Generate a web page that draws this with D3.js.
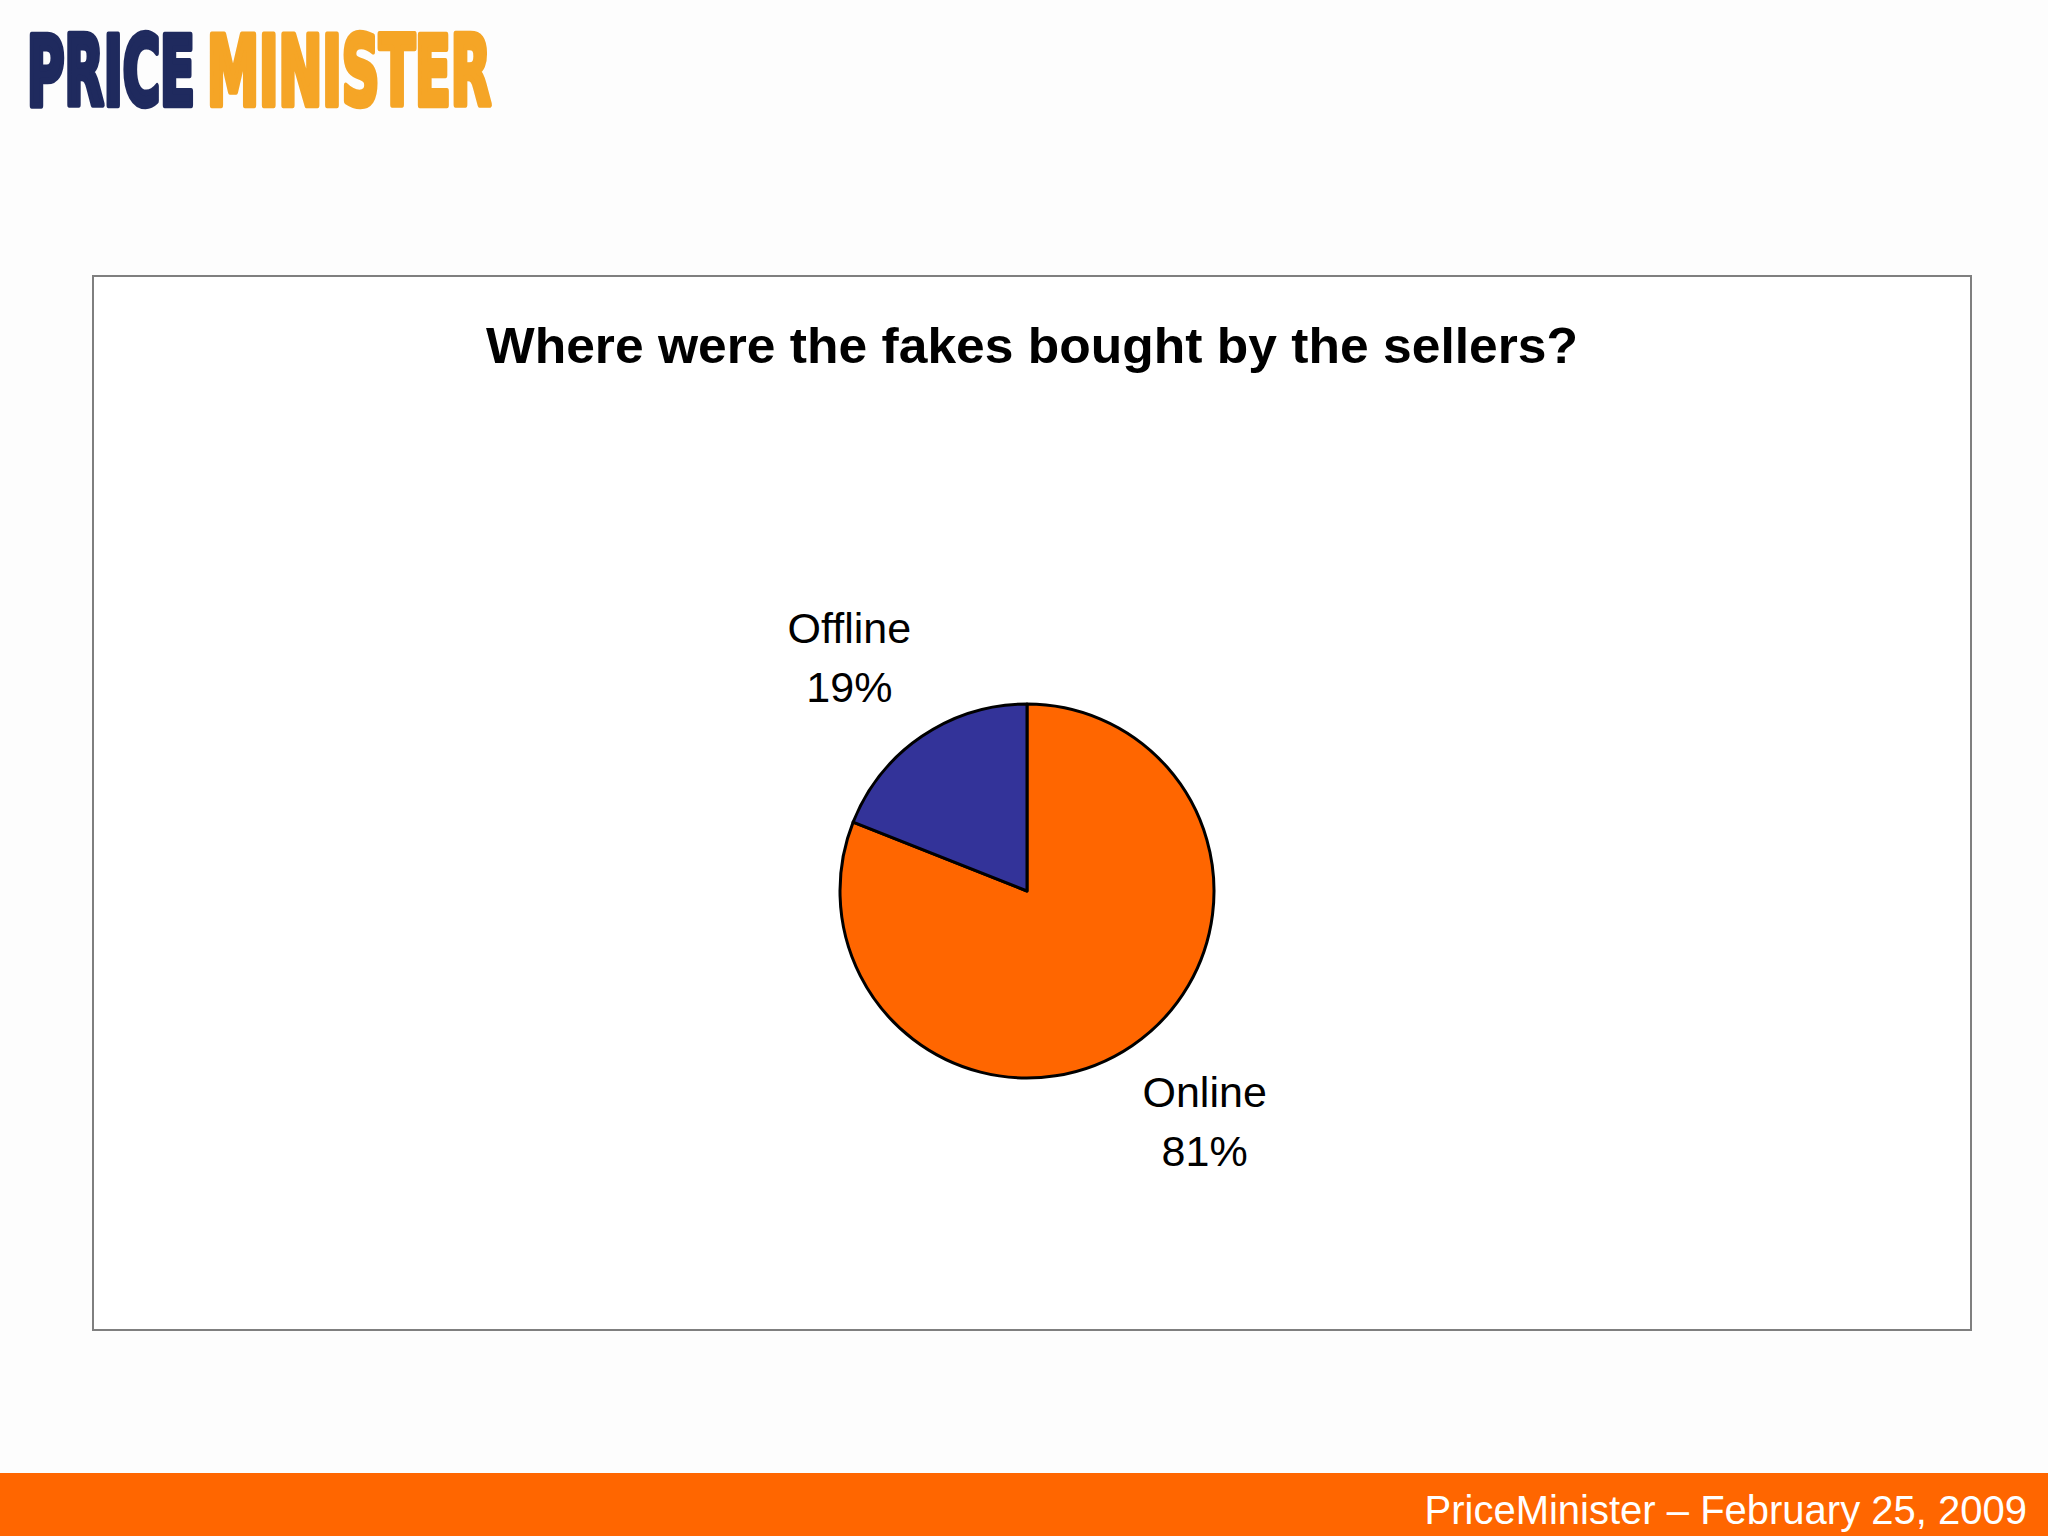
<!DOCTYPE html>
<html>
<head>
<meta charset="utf-8">
<script src="https://cdn.jsdelivr.net/npm/d3@7"></script>
<style>
  html, body { margin: 0; padding: 0; background: #fdfdfd; }
  svg { display: block; }
</style>
</head>
<body>
<svg id="chart" width="2048" height="1536"></svg>
<script>
// ---- data ----
const categories = ["Online", "Offline"];
const values = [81, 19];
const valueLabels = ["81%", "19%"];
const colors = ["#ff6600", "#333399"];
const titleText = "Where were the fakes bought by the sellers?";
const footerText = "PriceMinister \u2013 February 25, 2009";
const logoParts = ["PRICE", "MINISTER"];
const logoColors = ["#1f2a5e", "#f5a526"];

const W = 2048, H = 1536;
const svg = d3.select("#chart");

svg.append("rect").attr("x", 0).attr("y", 0).attr("width", W).attr("height", H).attr("fill", "#fdfdfd");

// ---- logo ----
const logoX = [27, 207], logoW = [168, 284];
logoParts.forEach((p, i) => {
  const t = svg.append("text")
    .attr("x", 0).attr("y", 0)
    .attr("font-family", "'Liberation Sans Narrow', 'DejaVu Sans Condensed', sans-serif")
    .attr("font-weight", "bold")
    .attr("font-size", 96)
    .attr("fill", logoColors[i]).attr("stroke", logoColors[i]).attr("stroke-width", 5)
    .attr("stroke-linejoin", "round")
    .text(p);
  const natural = t.node().getComputedTextLength();
  const sx = logoW[i] / natural;
  t.attr("transform", `translate(${logoX[i]},105) scale(${sx},1)`)
   .attr("stroke-width", 5 / Math.sqrt(sx));
});

// ---- chart frame ----
const box = { x: 93, y: 276, w: 1878, h: 1054 };
svg.append("rect")
  .attr("x", box.x).attr("y", box.y).attr("width", box.w).attr("height", box.h)
  .attr("fill", "#ffffff").attr("stroke", "#7f7f7f").attr("stroke-width", 2);

svg.append("text")
  .attr("x", box.x + box.w / 2).attr("y", 363)
  .attr("text-anchor", "middle")
  .attr("font-family", "Arial, 'Liberation Sans', sans-serif")
  .attr("font-weight", "bold")
  .attr("font-size", 50)
  .attr("fill", "#000")
  .attr("textLength", 1092).attr("lengthAdjust", "spacingAndGlyphs")
  .text(titleText);

// ---- pie ----
const cx = 1027, cy = 891, R = 187;
const data = categories.map((c, i) => ({ cat: c, value: values[i], label: valueLabels[i], color: colors[i] }));
const pie = d3.pie().sort(null).value(d => d.value);
const arc = d3.arc().innerRadius(0).outerRadius(R);
const arcs = pie(data);

const g = svg.append("g").attr("transform", `translate(${cx},${cy})`);
g.selectAll("path.slice")
  .data(arcs)
  .join("path")
  .attr("class", "slice")
  .attr("d", arc)
  .attr("fill", d => d.data.color)
  .attr("stroke", "#000")
  .attr("stroke-width", 3)
  .attr("stroke-linejoin", "round");

// labels
const lrx = 1.69 * R, lry = 1.5 * R;
const lab = g.selectAll("g.lab")
  .data(arcs)
  .join("g")
  .attr("class", "lab")
  .attr("transform", d => {
    const m = (d.startAngle + d.endAngle) / 2;
    return `translate(${Math.sin(m) * lrx},${-Math.cos(m) * lry})`;
  });
lab.append("text")
  .attr("y", -16)
  .attr("text-anchor", "middle")
  .attr("font-family", "Arial, 'Liberation Sans', sans-serif")
  .attr("font-size", 43)
  .attr("fill", "#000")
  .text(d => d.data.cat);
lab.append("text")
  .attr("y", 43)
  .attr("text-anchor", "middle")
  .attr("font-family", "Arial, 'Liberation Sans', sans-serif")
  .attr("font-size", 43)
  .attr("fill", "#000")
  .text(d => d.data.label);

// ---- footer ----
svg.append("rect").attr("x", 0).attr("y", 1473).attr("width", W).attr("height", H - 1473).attr("fill", "#ff6600");
svg.append("text")
  .attr("x", 2027).attr("y", 1524)
  .attr("text-anchor", "end")
  .attr("font-family", "Arial, 'Liberation Sans', sans-serif")
  .attr("font-size", 40)
  .attr("fill", "#ffffff")
  .text(footerText);
</script>
</body>
</html>
